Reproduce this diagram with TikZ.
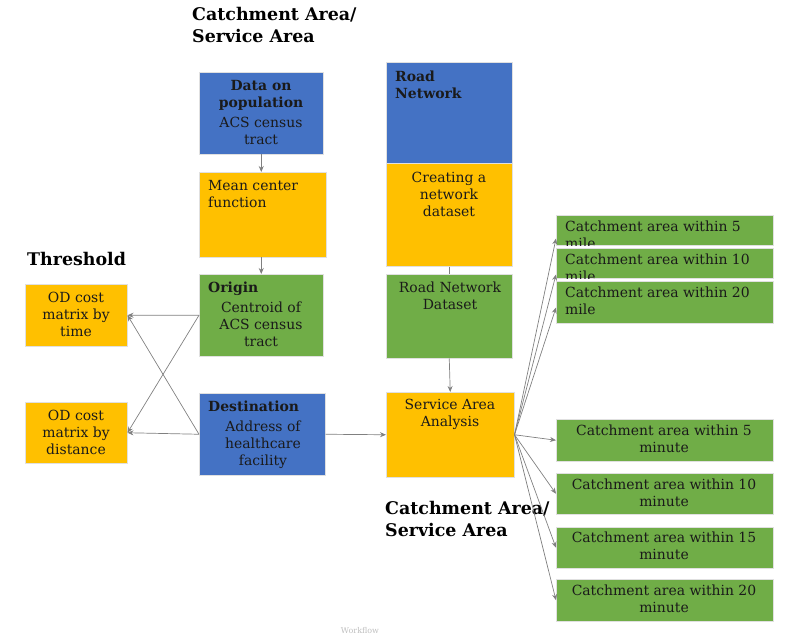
\documentclass[tikz,border=0pt]{standalone}
\usepackage{fontspec}
\setmainfont{DejaVu Serif}
\usetikzlibrary{arrows.meta,positioning}

\definecolor{boxblue}{HTML}{4472C4}
\definecolor{boxgold}{HTML}{FFC000}
\definecolor{boxgreen}{HTML}{70AD47}
\definecolor{linkgray}{HTML}{808080}
\definecolor{inktext}{HTML}{1A1A1A}

\begin{document}
\begin{tikzpicture}[x=1bp,y=-1bp,>={Stealth[length=6bp,width=5bp]},
box/.style={draw=black!12,line width=0.5pt,inner sep=0pt,anchor=north west},
blue box/.style={box,fill=boxblue},
gold box/.style={box,fill=boxgold},
green box/.style={box,fill=boxgreen},
txt/.style={inner sep=0pt,anchor=north,align=center,text=inktext,font=\fontsize{14}{17}\selectfont},
ltxt/.style={txt,anchor=north west,align=left},
btxt/.style={txt,font=\fontsize{14}{17}\selectfont\bfseries},
head/.style={inner sep=0pt,anchor=north west,align=left,text=black,font=\fontsize{17.5}{22}\selectfont\bfseries},
link/.style={->,linkgray,line width=0.7pt}]

\useasboundingbox (0,0) rectangle (793,635);

% headings
\node[head] (tophead) at (192,7) {Catchment Area/\\Service Area};
\node[head] (threshold) at (27,252) {Threshold};
\node[head] (lowhead) at (385,501) {Catchment Area/\\Service Area};

% population column
\node[blue box,minimum width=124bp,minimum height=82bp] (pop) at (199,72) {};
\node[btxt] (poptitle) at (261,80) {Data on\\population};
\node[txt] (poptext) at (261,117) {ACS census\\tract};
\node[gold box,minimum width=127bp,minimum height=85bp] (mean) at (199,172) {};
\node[ltxt] (meantext) at (208,180) {Mean center\\function};
\node[green box,minimum width=124bp,minimum height=82bp] (origin) at (199,274) {};
\node[btxt,anchor=north west] (origintitle) at (208,282) {Origin};
\node[txt] (origintext) at (261,302) {Centroid of\\ACS census\\tract};
\node[blue box,minimum width=126bp,minimum height=82bp] (dest) at (199,393) {};
\node[btxt,anchor=north west] (desttitle) at (208,401) {Destination};
\node[txt] (desttext) at (263,421) {Address of\\healthcare\\facility};

% threshold boxes
\node[gold box,minimum width=102bp,minimum height=62bp] (odtime) at (25,284) {};
\node[txt] (odtimetext) at (76,292) {OD cost\\matrix by\\time};
\node[gold box,minimum width=102bp,minimum height=61bp] (oddist) at (25,402) {};
\node[txt] (odlengthtext) at (76,410) {OD cost\\matrix by\\distance};

% road network column
\node[blue box,minimum width=126bp,minimum height=101bp] (road) at (386,62) {};
\node[btxt,anchor=north west,align=left] (roadtitle) at (395,71) {Road\\Network};
\node[gold box,minimum width=126bp,minimum height=103bp] (create) at (386,163) {};
\node[txt] (createtext) at (449,172) {Creating a\\network\\dataset};
\node[green box,minimum width=126bp,minimum height=84bp] (rnd) at (386,274) {};
\node[txt] (rndtext) at (450,282) {Road Network\\Dataset};
\node[gold box,minimum width=128bp,minimum height=85bp] (sa) at (386,392) {};
\node[txt] (satext) at (450,399) {Service Area\\Analysis};

% catchment boxes by distance
\node[green box,minimum width=217bp,minimum height=30bp] (mile5) at (556,215) {};
\begin{scope}
\clip (mile5.north west) rectangle (mile5.south east);
\node[ltxt] (mile5text) at (565,221) {Catchment area within 5\\mile};
\end{scope}
\node[green box,minimum width=217bp,minimum height=30bp] (mile10) at (556,248) {};
\begin{scope}
\clip (mile10.north west) rectangle (mile10.south east);
\node[ltxt] (mile10text) at (565,254) {Catchment area within 10\\mile};
\end{scope}
\node[green box,minimum width=217bp,minimum height=42bp] (mile20) at (556,281) {};
\node[ltxt] (mile20text) at (565,287) {Catchment area within 20\\mile};

% catchment boxes by time
\node[green box,minimum width=217bp,minimum height=42bp] (min5) at (556,419) {};
\node[txt] (min5text) at (664,425) {Catchment area within 5\\minute};
\node[green box,minimum width=217bp,minimum height=41bp] (min10) at (556,473) {};
\node[txt] (min10text) at (664,479) {Catchment area within 10\\minute};
\node[green box,minimum width=217bp,minimum height=41bp] (min15) at (556,527) {};
\node[txt] (min15text) at (664,532) {Catchment area within 15\\minute};
\node[green box,minimum width=217bp,minimum height=42bp] (min20) at (556,579) {};
\node[txt] (min20text) at (664,585) {Catchment area within 20\\minute};

\node[inner sep=0pt,anchor=south,text=black!25,font=\fontsize{8}{8}\selectfont] (caption) at (360,634) {Workflow};

% connectors
\draw[link] (pop.south) -- (pop.south |- mean.north);
\draw[link] (origin.north |- mean.south) -- (origin.north);
\draw[link,-] (create.south) -- (rnd.north);
\draw[link] (rnd.south) -- (sa.north);
\draw[link] (dest.east) -- (sa.west);
\draw[link] (origin.west) -- (odtime.east);
\draw[link] (origin.west) -- (oddist.east);
\draw[link] (dest.west) -- (odtime.east);
\draw[link] (dest.west) -- (oddist.east);
\draw[link] (sa.east) -- ([yshift=7bp]mile5.south west);
\draw[link] (sa.east) -- ([yshift=4bp]mile10.south west);
\draw[link] (sa.east) -- ([yshift=16bp]mile20.south west);
\foreach \target in {min5,min10,min15,min20}
  \draw[link] (sa.east) -- (\target.west);

\end{tikzpicture}
\end{document}
